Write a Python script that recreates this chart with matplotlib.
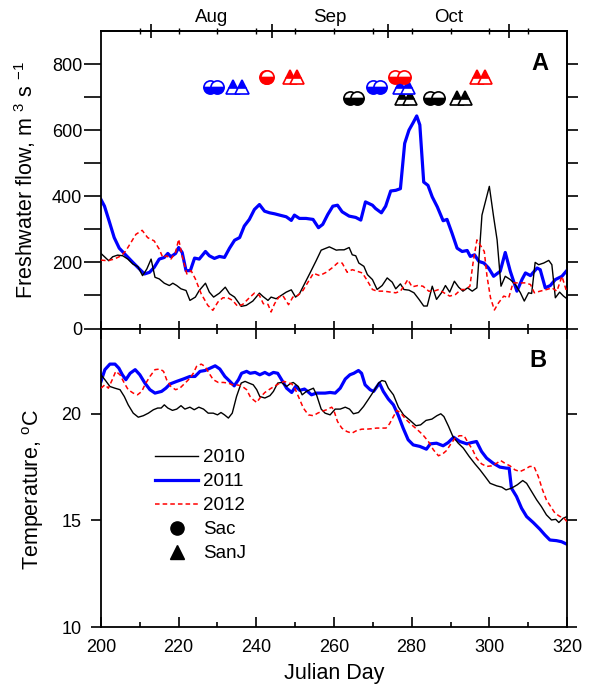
import numpy as np
import matplotlib
matplotlib.use("Agg")
import matplotlib.pyplot as plt
from matplotlib.lines import Line2D
from matplotlib.ticker import FixedLocator, MultipleLocator

plt.rcParams['font.family'] = ['Liberation Sans', 'DejaVu Sans']
plt.rcParams['mathtext.default'] = 'regular'

# ---------------- data: freshwater flow (m3/s) ----------------
flow2010_day = [200, 200.9, 202, 203, 204.3, 205.6, 206.9, 208.2, 209.5, 210.7, 211.8, 212.9, 213.9, 215,
                216.3, 217.6, 218.5, 219.5, 220.6, 221.9, 222.9, 224.3, 225.3, 226.9, 227.9, 229, 230.5, 232,
                233.1, 234.4, 236.1, 237.4, 239.1, 240.8, 241.7, 243, 243.8, 245.1, 246.4, 247.7, 249, 250.1,
                251.1, 252.4, 253.7, 255.4, 256.7, 258.8, 260.6, 261.3, 262.6, 263.9, 264.7, 265.6, 266.4,
                267.7, 268.6, 269.9, 271.1, 272.4, 273.7, 275, 275.9, 277.1, 278, 279.3, 280.6, 281.9, 283.1,
                284, 285.3, 286.4, 287.8, 288.7, 289.8, 291, 292.1, 293.2, 294.4, 295.6, 296.8, 298.1, 300,
                301.1, 302, 303, 304.1, 305.4, 306.7, 308, 309, 310.1, 310.9, 311.8, 312.7, 314, 315.3, 316.1,
                317, 318.1, 319.1, 320]
flow2010 = [227, 217, 205, 217, 222, 220, 210, 195, 187, 160, 180, 210, 155, 150,
            137, 130, 137, 130, 120, 115, 85, 95, 115, 137, 110, 95, 107, 125,
            105, 95, 67, 70, 83, 107, 97, 85, 95, 90, 100, 110, 117, 95,
            105, 135, 165, 205, 237, 247, 237, 238, 238, 245, 223, 220, 198,
            188, 163, 148, 118, 130, 153, 140, 120, 135, 118, 116, 108, 88, 68,
            68, 128, 88, 110, 130, 110, 143, 125, 113, 123, 113, 123, 343, 430,
            338, 268, 128, 158, 148, 133, 108, 83, 108, 106, 200, 193, 198, 206, 193,
            93, 110, 98, 90]

flow2011_day = [200, 200.9, 202.1, 203.4, 204.7, 206.4, 208.2, 209.9, 211.2, 212.5, 213.7, 215, 216.3, 217.2,
                218, 219.2, 220, 220.9, 221.9, 223, 224.1, 225.3, 226.9, 227.9, 229.2, 230.5, 231.8, 233.1,
                234.4, 235.7, 236.9, 238.2, 239.5, 240.8, 242.1, 243.4, 244.7, 246, 247.7, 249, 249.8, 251.1,
                252.8, 254.6, 256, 257.1, 258.4, 259.7, 260.9, 262.1, 263.9, 265.6, 266.9, 268.1, 269.9, 270.7,
                272.2, 273.3, 274.6, 275.9, 277.1, 278.2, 279.3, 280.4, 281.3, 282.1, 283.1, 284.2, 285.3,
                286.6, 288.1, 289.1, 290.4, 291.7, 293, 294.3, 295.1, 296.2, 297.3, 298.6, 299.8, 301.1, 302.8,
                304.1, 305.4, 307.1, 308.4, 309.3, 310.6, 312.3, 313.1, 314.4, 315.7, 317, 318.7, 320]
flow2011 = [390, 370, 325, 275, 243, 222, 200, 180, 165, 170, 185, 210, 215, 227,
            217, 227, 245, 230, 175, 175, 213, 210, 233, 220, 212, 218, 215, 243,
            267, 275, 310, 330, 360, 375, 355, 350, 347, 343, 338, 327, 343, 333,
            333, 330, 305, 315, 345, 370, 373, 353, 340, 336, 328, 383, 373, 363,
            350, 370, 416, 418, 423, 560, 600, 623, 643, 616, 443, 433, 398,
            368, 326, 330, 288, 243, 233, 236, 218, 223, 203, 198, 183, 158, 173,
            230, 173, 113, 148, 168, 160, 183, 178, 123, 130, 148, 158, 176]

flow2012_day = [200, 201.7, 203.4, 205.2, 206.4, 207.7, 209, 210.6, 212, 213.7, 215, 215.9, 216.9, 218,
                219.2, 220, 220.9, 222.1, 223.2, 224.3, 225.8, 227.5, 228.8, 230.1, 231.4, 232.6, 233.9,
                235.2, 236.5, 238.2, 239.5, 240.8, 241.8, 243, 243.8, 244.7, 245.8, 246.8, 248.3, 249.4,
                250.7, 252, 253.3, 254.7, 256.3, 258, 259.7, 260.9, 262.1, 263.4, 264.7, 266, 267.3, 268.4,
                269.9, 271.1, 272.9, 274.6, 275.9, 277.1, 278, 279, 280.1, 281.6, 282.9, 284.4, 285.7, 287,
                288.3, 289.8, 291.3, 292.7, 293.8, 295, 295.8, 296.8, 297.9, 298.7, 299.4, 300.3, 301.3,
                302.4, 303.7, 305, 306.1, 307.6, 309.3, 310.6, 311.6, 313.1, 314.8, 316.1, 317.4, 318.7, 320]
flow2012 = [207, 205, 210, 220, 235, 260, 285, 297, 275, 265, 240, 215, 220, 210,
            230, 270, 220, 165, 175, 150, 105, 70, 55, 80, 93, 93, 85,
            67, 73, 93, 107, 100, 75, 73, 50, 75, 95, 100, 72, 95,
            100, 115, 140, 167, 160, 170, 185, 198, 198, 170, 178, 173, 168, 148,
            118, 113, 113, 110, 108, 113, 128, 148, 126, 130, 128, 113, 113, 118,
            108, 98, 103, 118, 118, 128, 198, 268, 248, 233, 158, 93, 56,
            78, 98, 93, 138, 138, 138, 133, 108, 113, 118, 123, 113, 158, 108]

# ---------------- data: temperature (deg C) ----------------
temp2010_day = [200, 201, 202.3, 203.6, 204.9, 206, 207, 208.3, 209.6, 210.9, 212.2, 213.5, 214.6, 215.5,
                216.3, 217.2, 218.4, 219.5, 220.6, 221.6, 222.9, 224, 225.2, 226.4, 227.6, 228.9, 230, 230.9,
                231.8, 232.8, 233.8, 234.9, 236.1, 237.1, 238.1, 239.2, 240.1, 240.9, 242.2, 243.5, 244.4,
                245.5, 246.5, 247.8, 248.7, 249.5, 250.8, 251.8, 252.9, 253.8, 254.7, 255.5, 256.7, 257.7,
                259, 260.3, 261.6, 262.9, 264, 265, 266.3, 267.6, 268.9, 270.2, 271.5, 272.3, 273.2, 274,
                275.3, 276.6, 277.9, 279.6, 281.1, 282.3, 283.7, 285.2, 286.5, 287.5, 288.3, 289.5, 290.6,
                292, 293.3, 294.8, 296.3, 297.6, 298.9, 300.2, 301.9, 303.2, 304.3, 305.7, 307.2, 308.6,
                309.6, 310.9, 312.2, 313.4, 314.7, 316, 317.1, 317.9, 319, 320]
temp2010 = [21.83, 21.6, 21.28, 21.2, 21.13, 20.81, 20.42, 20.03, 19.84, 19.91, 20.03, 20.19, 20.27, 20.27,
            20.42, 20.27, 20.16, 20.22, 20.38, 20.22, 20.31, 20.19, 20.31, 20.22, 20.03, 20.03, 19.95, 20.06,
            19.95, 19.8, 20.03, 20.81, 21.44, 21.52, 21.44, 21.36, 21.13, 20.81, 20.74, 20.85, 21.05,
            21.44, 21.47, 21.28, 21.41, 21.47, 21.28, 20.89, 21.05, 21.13, 21.2, 20.89, 20.22, 20.03,
            19.95, 20.22, 20.22, 20.31, 20.22, 20.0, 20.06, 20.34, 20.69, 21.05, 21.44, 21.56, 21.52, 21.2,
            20.89, 20.31, 19.95, 19.69, 19.44, 19.48, 19.69, 19.75, 19.91, 20.0, 19.87, 19.41, 18.94,
            18.62, 18.39, 18.0, 17.65, 17.37, 17.06, 16.74, 16.62, 16.56, 16.43, 16.51, 16.67, 16.87,
            16.74, 16.35, 15.96, 15.65, 15.26, 15.02, 15.05, 14.9, 15.1, 15.18]

temp2011_day = [200, 201, 202.3, 203.6, 204.6, 205.5, 206.4, 207.5, 208.8, 210, 211.3, 212.6, 213.9, 215.6,
                216.7, 217.8, 219.5, 221.2, 222.9, 224.2, 225.5, 226.8, 228.1, 229.4, 230.6, 231.9, 233.2,
                234.3, 235.4, 236.2, 237.5, 238.4, 239.7, 240.9, 242.2, 243.3, 244.4, 245.5, 246.5, 247.8,
                249.1, 250.1, 251.2, 252.4, 253.2, 254.2, 255.5, 257.7, 259, 260.3, 261.6, 262.9, 264.1,
                265.1, 266.3, 267.1, 268, 269.3, 270.2, 271.7, 272.7, 274, 275.3, 276.5, 277.8, 279.1, 280.4,
                282.1, 283.8, 284.8, 286.4, 288.1, 289.4, 290.8, 292.4, 294.2, 295.4, 296.7, 298, 299.3, 301,
                302.7, 304.4, 305.1, 305.7, 307, 308.3, 309.6, 311.3, 313, 314.3, 315.6, 317.3, 318.6, 320]
temp2011 = [21.52, 22.07, 22.33, 22.33, 22.14, 21.83, 21.6, 21.9, 22.07, 21.83, 21.44, 21.13, 20.97, 21.05,
            21.2, 21.4, 21.52, 21.63, 21.75, 21.75, 21.99, 22.03, 22.14, 22.25, 22.1, 21.75, 21.52,
            21.31, 21.6, 21.9, 21.99, 21.9, 21.94, 21.83, 21.94, 21.83, 21.94, 21.9, 21.6, 21.2,
            21.0, 21.28, 21.1, 21.16, 21.05, 20.89, 20.97, 20.97, 21.0, 20.97, 21.2, 21.63, 21.83,
            21.9, 22.03, 21.9, 21.36, 21.13, 21.05, 21.44, 21.05, 20.69, 20.42, 19.95, 19.33, 18.78, 18.54,
            18.47, 18.34, 18.59, 18.62, 18.5, 18.65, 18.9, 18.7, 18.59, 18.65, 18.7, 18.23, 17.92, 17.68,
            17.5, 17.45, 17.45, 16.51, 16.12, 15.57, 15.18, 14.9, 14.59, 14.32, 14.08, 14.05, 14.0, 13.88]

temp2012_day = [200, 201, 201.9, 202.9, 203.8, 204.9, 206, 207, 208.3, 209.4, 210.5, 211.3, 212.6, 213.9,
                215.2, 216.1, 216.9, 218, 219.2, 220.3, 221.2, 222.1, 222.9, 223.8, 224.6, 225.8, 226.8,
                227.8, 228.9, 230.2, 231.5, 232.8, 233.8, 234.9, 236.2, 237.5, 238.4, 239.2, 240.1, 241.2,
                242.2, 243.5, 244.8, 246.1, 247.2, 248.2, 249.1, 250, 251, 252.1, 253.4, 254.7, 255.8,
                256.8, 258.1, 259.4, 259.9, 260.9, 262, 263.3, 264.6, 265.9, 267.2, 268.5, 269.7, 271,
                272.3, 273.4, 274.3, 275.3, 276.2, 277.2, 278.6, 280, 281.5, 282.9, 284.3, 285.6, 286.9,
                288, 289, 290.1, 291.2, 292.3, 293.5, 294.6, 295.7, 296.7, 298, 299.3, 300.6, 301.9, 302.9,
                304, 305.3, 306.6, 307.9, 309.2, 310.4, 311.5, 312.6, 313.7, 314.7, 315.8, 316.9, 318.2,
                319, 320]
temp2012 = [21.2, 21.36, 21.2, 21.6, 21.99, 21.83, 21.44, 21.13, 20.97, 20.89, 21.05, 21.36, 21.75, 22.07,
            22.1, 21.99, 21.6, 21.28, 21.13, 21.2, 21.36, 21.52, 21.67, 21.91, 22.22, 22.33, 22.22,
            21.91, 21.6, 21.47, 21.47, 21.44, 21.36, 21.36, 21.31, 21.13, 20.81, 20.66, 20.53, 20.81,
            21.0, 21.16, 21.31, 21.44, 21.52, 21.44, 21.41, 21.16, 20.74, 20.27, 19.95, 19.91, 20.03,
            20.11, 20.19, 20.31, 20.19, 19.64, 19.33, 19.17, 19.09, 19.22, 19.28, 19.28, 19.3, 19.33,
            19.33, 19.33, 19.53, 19.87, 20.16, 20.03, 19.72, 19.48, 19.25, 19.01, 18.7, 18.31, 18.03,
            18.12, 18.28, 18.59, 18.86, 18.97, 18.97, 18.62, 18.31, 17.92, 17.65, 17.53, 17.56, 17.68, 17.81,
            17.68, 17.56, 17.37, 17.29, 17.4, 17.53, 17.53, 17.06, 16.43, 15.96, 15.65, 15.34, 15.18,
            15.15, 14.94]

# ---------------- survey markers (start / end days) ----------------
years = ['2010', '2011', '2012']
year_colors = ['black', 'blue', 'red']
survey_flow_level = [698, 730, 762]
sac_days = [[264.1, 265.8, 284.7, 286.9],
            [228.1, 230.0, 270.1, 271.8],
            [242.6, 242.8, 275.7, 277.9]]
sanj_days = [[277.4, 279.6, 291.6, 293.7],
             [234.1, 236.2, 277.0, 279.1],
             [248.7, 250.4, 296.8, 298.9]]

month_names = ['Aug', 'Sep', 'Oct']
month_starts = [213, 244, 274, 305]

# ---------------- figure ----------------
W, H = 592, 687
fig = plt.figure(figsize=(W / 100, H / 100), dpi=100)
L, R = 101 / W, 567 / W
ax1 = fig.add_axes([L, 1 - 328.5 / H, R - L, (328.5 - 31) / H])
ax2 = fig.add_axes([L, 1 - 627 / H, R - L, (627 - 328.5) / H])

FS = 13          # tick labels
FS_LAB = 15.5    # axis titles
FS_LEG = 13.5
styles = {'2010': dict(color='black', lw=1.0, ls='-'),
          '2011': dict(color='blue', lw=2.3, ls='-'),
          '2012': dict(color='red', lw=1.1, ls=(0, (3, 2)))}

ax1.plot(flow2010_day, flow2010, **styles['2010'], zorder=3)
ax1.plot(flow2011_day, flow2011, **styles['2011'], zorder=2)
ax1.plot(flow2012_day, flow2012, **styles['2012'], zorder=4)

ax2.plot(temp2010_day, temp2010, **styles['2010'], zorder=3)
ax2.plot(temp2011_day, temp2011, **styles['2011'], zorder=2)
ax2.plot(temp2012_day, temp2012, **styles['2012'], zorder=4)

for yi, col in enumerate(year_colors):
    lvl = survey_flow_level[yi]
    for d in sac_days[yi]:
        ax1.plot([d], [lvl], marker='o', ms=9.5, mec=col, mfc=col, mfcalt='white',
                 fillstyle='bottom', mew=1.2, ls='none', zorder=5)
    for d in sanj_days[yi]:
        ax1.plot([d], [lvl], marker='^', ms=10.5, mec=col, mfc=col, mfcalt='white',
                 fillstyle='top', mew=1.2, ls='none', zorder=5)

for ax in (ax1, ax2):
    ax.set_xlim(200, 320)
    ax.xaxis.set_major_locator(MultipleLocator(20))
    ax.xaxis.set_minor_locator(MultipleLocator(10))
    for s in ax.spines.values():
        s.set_linewidth(1.3)

# top panel
ax1.set_ylim(0, 900)
ax1.yaxis.set_major_locator(FixedLocator([0, 200, 400, 600, 800]))
ax1.yaxis.set_minor_locator(FixedLocator([100, 300, 500, 700]))
ax1.tick_params(axis='y', which='both', direction='out', length=12, width=1.2,
                left=True, right=False, labelsize=FS, pad=1.5)
ax1.tick_params(axis='x', which='major', direction='in', length=6, width=1.2,
                bottom=True, top=False, labelbottom=False)
ax1.tick_params(axis='x', which='minor', direction='in', length=3.5, width=1.2,
                bottom=True, top=False)
r1 = ax1.secondary_yaxis('right')
r1.yaxis.set_major_locator(FixedLocator([0, 200, 400, 600, 800]))
r1.yaxis.set_minor_locator(FixedLocator([100, 300, 500, 700]))
r1.tick_params(which='both', direction='out', length=8, width=1.2, labelright=False)
r1.spines['right'].set_linewidth(1.3)

sec = ax1.secondary_xaxis('top')
sec.set_xticks(month_starts)
sec.set_xticklabels([''] * len(month_starts))
sec.xaxis.set_minor_locator(FixedLocator(list(range(210, 320, 10))))
sec.tick_params(which='major', direction='inout', length=10, width=1.2)
sec.tick_params(which='minor', direction='inout', length=4, width=1.0)
sec.spines['top'].set_linewidth(1.3)
for i, name in enumerate(month_names):
    xm = 0.5 * (month_starts[i] + month_starts[i + 1])
    ax1.text(xm, 1.045, name, transform=ax1.get_xaxis_transform(), ha='center',
             va='center', fontsize=FS_LEG)

ax1.set_ylabel('Freshwater flow, m $^3$ s $^{-1}$', fontsize=FS_LAB)
ax1.yaxis.set_label_coords(-0.135, 0.5)
ax1.text(0.942, 0.892, 'A', transform=ax1.transAxes, fontsize=17, fontweight='bold',
         ha='center', va='center')

# bottom panel
ax2.set_ylim(10, 24)
ax2.yaxis.set_major_locator(FixedLocator([10, 15, 20]))
ax2.tick_params(axis='y', which='both', direction='out', length=7, width=1.2,
                left=True, right=True, labelsize=FS, pad=7)
ax2.tick_params(axis='x', which='major', direction='in', length=7, width=1.2,
                bottom=True, top=True, labelsize=FS, pad=8.5)
ax2.tick_params(axis='x', which='minor', direction='in', length=3.5, width=1.2,
                bottom=True, top=True)
ax2.set_xlabel('Julian Day', fontsize=FS_LAB, labelpad=5)
ax2.set_ylabel('Temperature, $^o$C', fontsize=FS_LAB)
ax2.yaxis.set_label_coords(-0.118, 0.46)
ax2.text(0.938, 0.894, 'B', transform=ax2.transAxes, fontsize=17, fontweight='bold',
         ha='center', va='center')

handles = [Line2D([], [], **styles[y]) for y in years]
handles += [Line2D([], [], marker='o', color='black', ls='none', ms=9.5),
            Line2D([], [], marker='^', color='black', ls='none', ms=10.5)]
labels = years + ['Sac', 'SanJ']
ax2.legend(handles, labels, loc='upper left', bbox_to_anchor=(0.116, 0.596), frameon=False,
           fontsize=FS_LEG, handlelength=2.3, handletextpad=0.27, labelspacing=0.37,
           borderpad=0, borderaxespad=0)

fig.savefig('out.png', dpi=100)
